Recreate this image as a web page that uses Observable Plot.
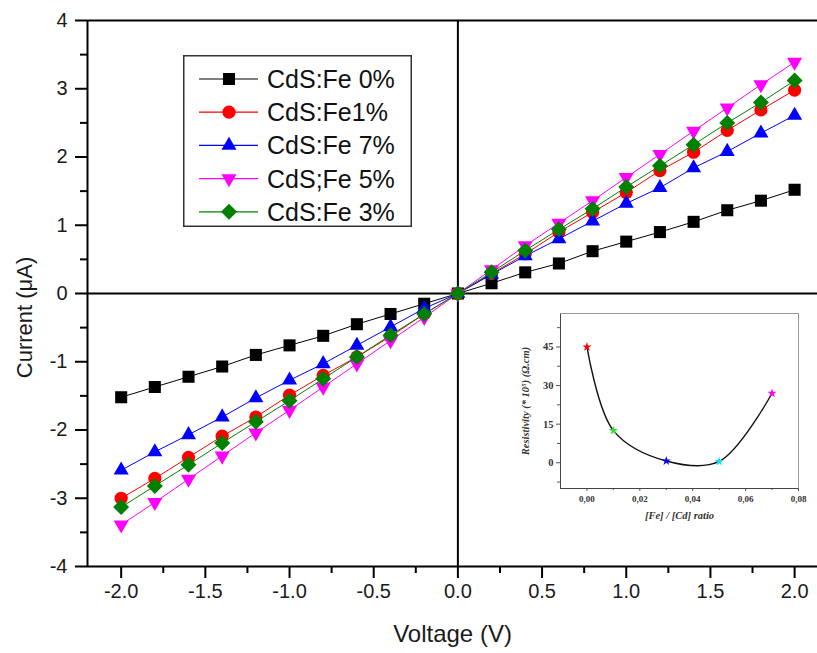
<!DOCTYPE html>
<html><head><meta charset="utf-8">
<script src="https://cdn.jsdelivr.net/npm/d3@7"></script>
<script src="https://cdn.jsdelivr.net/npm/@observablehq/plot@0.6"></script>
<style>
body{margin:0;background:#fff;}
#wrap{position:relative;width:817px;height:653px;overflow:hidden;font-family:Arial,"Liberation Sans",sans-serif;}
#main{position:absolute;left:0;top:0;}
#inset{position:absolute;left:500px;top:298px;}
#legend{position:absolute;left:183px;top:55px;}
</style></head><body>
<div id="wrap"><div id="main"></div><div id="inset"></div><div id="legend"></div></div>
<script>
// ---- main I-V data ----
const voltage = [-2.0,-1.8,-1.6,-1.4,-1.2,-1.0,-0.8,-0.6,-0.4,-0.2,0,0.2,0.4,0.6,0.8,1.0,1.2,1.4,1.6,1.8,2.0];
const fe0 = [-1.52,-1.37,-1.22,-1.07,-0.90,-0.76,-0.62,-0.45,-0.30,-0.15,0,0.15,0.31,0.44,0.62,0.76,0.90,1.05,1.22,1.36,1.52];
const fe1 = [-3.00,-2.71,-2.40,-2.09,-1.81,-1.49,-1.20,-0.93,-0.63,-0.30,0,0.29,0.58,0.90,1.19,1.48,1.80,2.07,2.39,2.69,2.98];
const fe7 = [-2.59,-2.32,-2.07,-1.81,-1.53,-1.27,-1.03,-0.76,-0.49,-0.22,0,0.28,0.55,0.80,1.06,1.32,1.55,1.84,2.08,2.35,2.61];
const fe5 = [-3.39,-3.06,-2.72,-2.38,-2.04,-1.71,-1.37,-1.03,-0.69,-0.35,0,0.35,0.70,1.03,1.36,1.70,2.04,2.38,2.72,3.06,3.39];
const fe3 = [-3.13,-2.82,-2.51,-2.19,-1.88,-1.57,-1.25,-0.93,-0.61,-0.30,0,0.31,0.63,0.94,1.24,1.56,1.87,2.18,2.50,2.80,3.12];
const seriesNames = ["CdS:Fe 0%","CdS:Fe1%","CdS:Fe 7%","CdS;Fe 5%","CdS:Fe 3%"];
const seriesValues = [fe0, fe1, fe7, fe5, fe3];
const seriesColors = ["#000000","#ff0000","#0000ff","#ff00ff","#008000"];
const seriesSymbols = ["square","circle","triangle","triangle","diamond2"];
const seriesRotate = [0,0,0,180,0];
const seriesR = [6.8,6.6,5.6,5.6,7.2];
const xTicks = [-2.0,-1.5,-1.0,-0.5,0,0.5,1.0,1.5,2.0];
const xMinor = [-1.75,-1.25,-0.75,-0.25,0.25,0.75,1.25,1.75];
const yTicks = [-4,-3,-2,-1,0,1,2,3,4];
const yMinor = [-3.5,-2.5,-1.5,-0.5,0.5,1.5,2.5,3.5];
const xDomain = [-2.2, 2.136];
const yDomain = [-4, 4];
const xLabel = "Voltage (V)";
const yLabel = "Current (μA)";

// ---- inset data ----
const ratio = [0, 0.01, 0.03, 0.05, 0.07];
const resistivity = [45, 12.5, 0.7, 0.5, 27];
const starColors = ["#ff0000","#33dd33","#0000ff","#00e0ff","#ff00ff"];
const insetXTicks = [0, 0.02, 0.04, 0.06, 0.08];
const insetXMinor = [0.01, 0.03, 0.05, 0.07];
const insetYTicks = [0, 15, 30, 45];
const insetYMinor = [-7.5, 7.5, 22.5, 37.5, 52.5];
const insetXDomain = [-0.01, 0.08];
const insetYDomain = [-10, 58];
const insetXLabel = "[Fe] / [Cd] ratio";
const insetYLabel = "Resistivity (* 10⁵) (Ω.cm)";

const table = seriesNames.map((name, s) => voltage.map((v, i) => ({series: name, V: v, I: seriesValues[s][i]})));

const dataMarks = table.flatMap((rows, s) => [
  Plot.line(rows, {x: "V", y: "I", stroke: seriesColors[s], strokeWidth: 1}),
  Plot.dot(rows, {x: "V", y: "I", symbol: seriesSymbols[s], r: seriesR[s], fill: seriesColors[s], stroke: "none", rotate: seriesRotate[s]})
]);

const main = Plot.plot({
  width: 817, height: 653,
  marginLeft: 87, marginRight: 0, marginTop: 20, marginBottom: 87,
  x: {domain: xDomain},
  y: {domain: yDomain},
  style: {fontFamily: "Arial, 'Liberation Sans', sans-serif", color: "#1a1a1a", background: "transparent", overflow: "visible"},
  marks: [
    Plot.axisX({ticks: xTicks, tickSize: 12, tickPadding: 5, strokeWidth: 2, stroke: "#000", tickFormat: d => d.toFixed(1), fontSize: 20, label: null}),
    Plot.axisX({ticks: xMinor, tickSize: 7, strokeWidth: 2, stroke: "#000", tickFormat: () => "", label: null}),
    Plot.axisY({ticks: yTicks, tickSize: 12, tickPadding: 8, strokeWidth: 2, stroke: "#000", tickFormat: d => String(d), fontSize: 20, label: null}),
    Plot.axisY({ticks: yMinor, tickSize: 7, strokeWidth: 2, stroke: "#000", tickFormat: () => "", label: null}),
    Plot.ruleY(yDomain, {stroke: "#000", strokeWidth: 2}),
    Plot.ruleX([xDomain[0]], {stroke: "#000", strokeWidth: 2}),
    Plot.ruleX([0], {stroke: "#000", strokeWidth: 2}),
    Plot.ruleY([0], {stroke: "#000", strokeWidth: 2}),
    ...dataMarks,
    Plot.text([xLabel], {frameAnchor: "bottom", textAnchor: "middle", dy: 75, fontSize: 24, fill: "#1a1a1a"}),
    Plot.text([yLabel], {frameAnchor: "left", textAnchor: "middle", lineAnchor: "middle", rotate: -90, dx: -63, dy: 24, fontSize: 22, fill: "#1a1a1a"})
  ]
});
document.getElementById("main").append(main);

// ---- inset ----
const insetData = ratio.map((r, i) => ({ratio: r, rho: resistivity[i], color: starColors[i]}));
const serif = "'Liberation Serif', 'DejaVu Serif', 'Times New Roman', serif";
const inset = Plot.plot({
  width: 317, height: 240,
  marginLeft: 60, marginRight: 19, marginTop: 15, marginBottom: 50,
  x: {domain: insetXDomain},
  y: {domain: insetYDomain},
  color: {type: "identity"},
  style: {fontFamily: serif, fontWeight: "bold", color: "#333", background: "white", overflow: "visible"},
  marks: [
    Plot.axisY({ticks: insetYTicks, tickSize: 4, tickPadding: 3, fontSize: 10.5, fontWeight: "bold", tickFormat: d => String(d), label: null, stroke: "#555"}),
    Plot.axisY({ticks: insetYMinor, tickSize: 3, tickFormat: () => "", label: null, stroke: "#555"}),
    Plot.axisX({ticks: insetXTicks, tickSize: 3, tickPadding: 4, fontSize: 9, fontWeight: "bold", tickFormat: d => d.toFixed(2).replace(".", ","), label: null, stroke: "#555"}),
    Plot.axisX({ticks: insetXMinor, tickSize: 2, tickFormat: () => "", label: null, stroke: "#555"}),
    Plot.ruleX([insetXDomain[0]], {stroke: "#444", strokeWidth: 1}),
    Plot.ruleY([insetYDomain[0]], {stroke: "#444", strokeWidth: 1}),
    Plot.ruleX([insetXDomain[1]], {stroke: "#999", strokeWidth: 1}),
    Plot.ruleY([insetYDomain[1]], {stroke: "#999", strokeWidth: 1}),
    Plot.line(insetData, {x: "ratio", y: "rho", curve: "catmull-rom", stroke: "#111", strokeWidth: 1.4}),
    Plot.dot(insetData, {x: "ratio", y: "rho", symbol: "star", r: 2.9, fill: "color", stroke: "none"}),
    Plot.text([insetXLabel], {frameAnchor: "bottom", textAnchor: "middle", dy: 30, fontSize: 10.5, fontStyle: "italic", fontWeight: "bold", fill: "#333"}),
    Plot.text([insetYLabel], {frameAnchor: "left", textAnchor: "middle", lineAnchor: "middle", rotate: -90, dx: -35, fontSize: 10.5, fontStyle: "italic", fontWeight: "bold", fill: "#333"})
  ]
});
document.getElementById("inset").append(inset);

// ---- legend ----
const symMap = {square: d3.symbolSquare, circle: d3.symbolCircle, triangle: d3.symbolTriangle, diamond2: d3.symbolDiamond2};
const lw = 229, lh = 172;
const leg = d3.select("#legend").append("svg").attr("width", lw).attr("height", lh)
  .style("font-family", "Arial, 'Liberation Sans', sans-serif");
leg.append("rect").attr("x", 0.75).attr("y", 0.75).attr("width", lw - 1.5).attr("height", lh - 1.5)
  .attr("fill", "#fff").attr("stroke", "#333").attr("stroke-width", 1.5);
seriesNames.forEach((name, s) => {
  const cy = 24 + s * 33.2;
  leg.append("line").attr("x1", 16).attr("x2", 75).attr("y1", cy).attr("y2", cy)
    .attr("stroke", seriesColors[s]).attr("stroke-width", 1.2);
  leg.append("path").attr("d", d3.symbol(symMap[seriesSymbols[s]], Math.PI * seriesR[s] * seriesR[s])())
    .attr("transform", `translate(46,${cy}) rotate(${seriesRotate[s]})`).attr("fill", seriesColors[s]);
  leg.append("text").attr("x", 84).attr("y", cy).attr("dy", "0.36em").attr("font-size", 25)
    .attr("fill", "#111").text(name);
});
</script>
</body></html>
